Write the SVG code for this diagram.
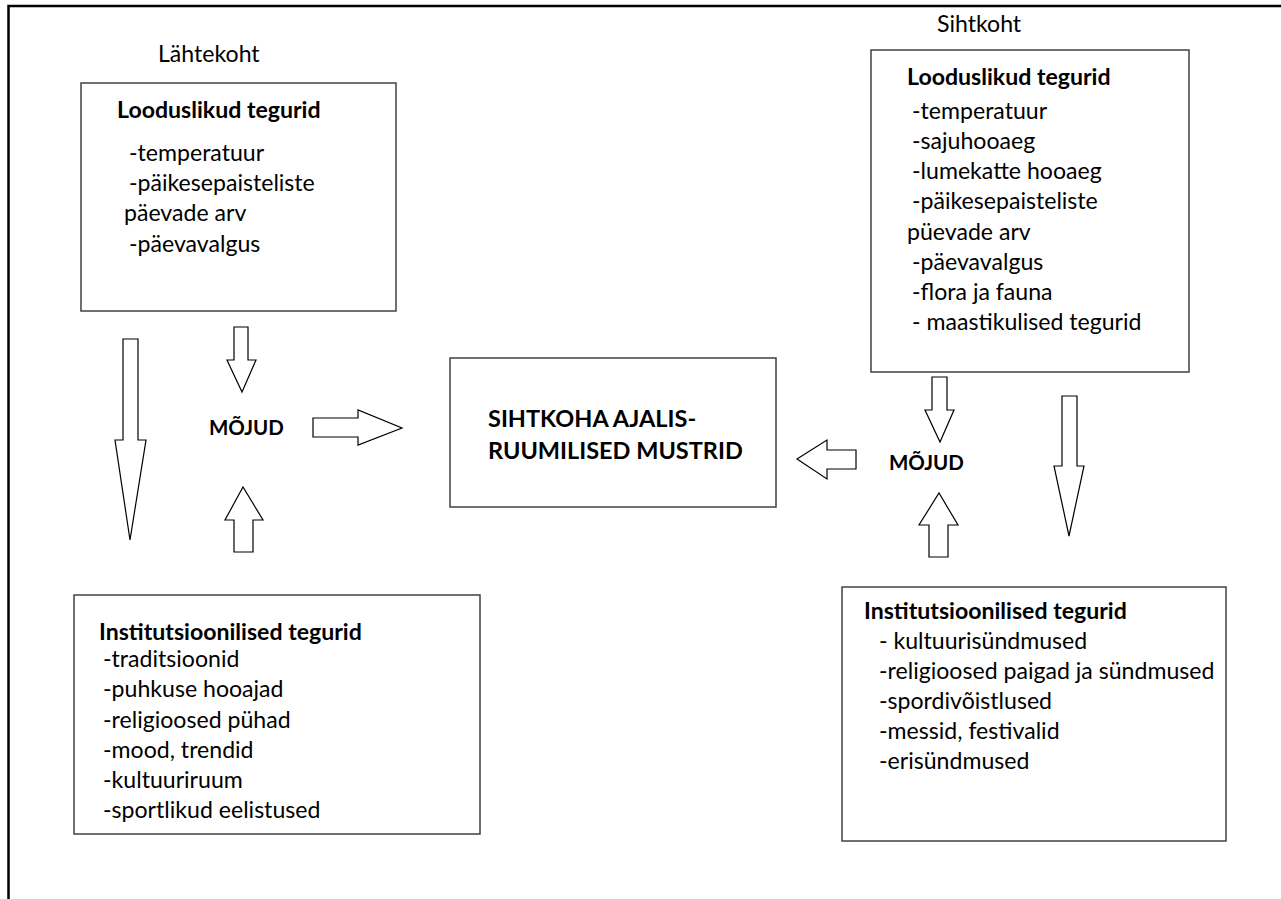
<svg xmlns="http://www.w3.org/2000/svg" width="1281" height="899" viewBox="0 0 1281 899">
<style>
text{font-family:Lato,"Open Sans","Liberation Sans",sans-serif;fill:#000}
.t{font-size:23.1px}
.b{font-size:23.1px;font-weight:bold}
.c{font-size:23.5px;font-weight:bold}
.m{font-size:20.5px;font-weight:bold}
.box{fill:#fff;stroke:#404040;stroke-width:1.5}
.arr{fill:#fff;stroke:#000;stroke-width:1.2;stroke-linejoin:miter}
</style>
<rect width="1281" height="899" fill="#fff"/>
<path d="M8.5,899 V6 H1281" fill="none" stroke="#000" stroke-width="2.5"/>
<g id="label-lahtekoht"><text class="t" x="158" y="62">Lähtekoht</text></g>
<g id="label-sihtkoht"><text class="t" x="937" y="32">Sihtkoht</text></g>
<g id="box-lahte-looduslikud">
<rect class="box" x="81" y="83" width="315" height="228"/>
<text class="b" x="117" y="118">Looduslikud tegurid</text>
<text class="t" x="129" y="161">-temperatuur</text>
<text class="t" x="129" y="191">-päikesepaisteliste</text>
<text class="t" x="124" y="221">päevade arv</text>
<text class="t" x="129" y="252">-päevavalgus</text>
</g>
<g id="box-siht-looduslikud">
<rect class="box" x="871" y="50" width="318" height="322"/>
<text class="b" x="907" y="85">Looduslikud tegurid</text>
<text class="t" x="912" y="119">-temperatuur</text>
<text class="t" x="912" y="149">-sajuhooaeg</text>
<text class="t" x="912" y="179">-lumekatte hooaeg</text>
<text class="t" x="912" y="209">-päikesepaisteliste</text>
<text class="t" x="907" y="240">püevade arv</text>
<text class="t" x="912" y="270">-päevavalgus</text>
<text class="t" x="912" y="300">-flora ja fauna</text>
<text class="t" x="912" y="330">- maastikulised tegurid</text>
</g>
<g id="box-center">
<rect class="box" x="450" y="358" width="326" height="149"/>
<text class="c" x="488" y="427">SIHTKOHA AJALIS-</text>
<text class="c" x="488" y="459">RUUMILISED MUSTRID</text>
</g>
<g id="mojud-left"><text class="m" x="209" y="435">MÕJUD</text></g>
<g id="mojud-right"><text class="m" x="889" y="470">MÕJUD</text></g>
<g id="box-lahte-institutsioonilised">
<rect class="box" x="74" y="595" width="406" height="239"/>
<text class="b" x="99" y="640">Institutsioonilised tegurid</text>
<text class="t" x="103" y="667">-traditsioonid</text>
<text class="t" x="103" y="697">-puhkuse hooajad</text>
<text class="t" x="103" y="728">-religioosed pühad</text>
<text class="t" x="103" y="758">-mood, trendid</text>
<text class="t" x="103" y="788">-kultuuriruum</text>
<text class="t" x="103" y="818">-sportlikud eelistused</text>
</g>
<g id="box-siht-institutsioonilised">
<rect class="box" x="842" y="587" width="384" height="254"/>
<text class="b" x="864" y="619">Institutsioonilised tegurid</text>
<text class="t" x="879" y="649">- kultuurisündmused</text>
<text class="t" x="879" y="679">-religioosed paigad ja sündmused</text>
<text class="t" x="879" y="709">-spordivõistlused</text>
<text class="t" x="879" y="739">-messid, festivalid</text>
<text class="t" x="879" y="769">-erisündmused</text>
</g>
<g id="connectors">
<polygon class="arr" points="123,339 138,339 138,440 146,440 130,540 115,440 123,440"/>
<polygon class="arr" points="234,327 248,327 248,360 256,360 242,392 227,360 234,360"/>
<polygon class="arr" points="313,418 358,418 358,410 402,428 358,445 358,437 313,437"/>
<polygon class="arr" points="234,552 253,552 253,520 263,520 243,487 225,520 234,520"/>
<polygon class="arr" points="932,377 947,377 947,410 954,410 940,442 925,410 932,410"/>
<polygon class="arr" points="856,450 856,469 827,469 827,479 797,459 827,440 827,450"/>
<polygon class="arr" points="929,557 948,557 948,525 958,525 939,493 919,525 929,525"/>
<polygon class="arr" points="1062,396 1077,396 1077,466 1084,466 1069,536 1054,466 1062,466"/>
</g>
</svg>
